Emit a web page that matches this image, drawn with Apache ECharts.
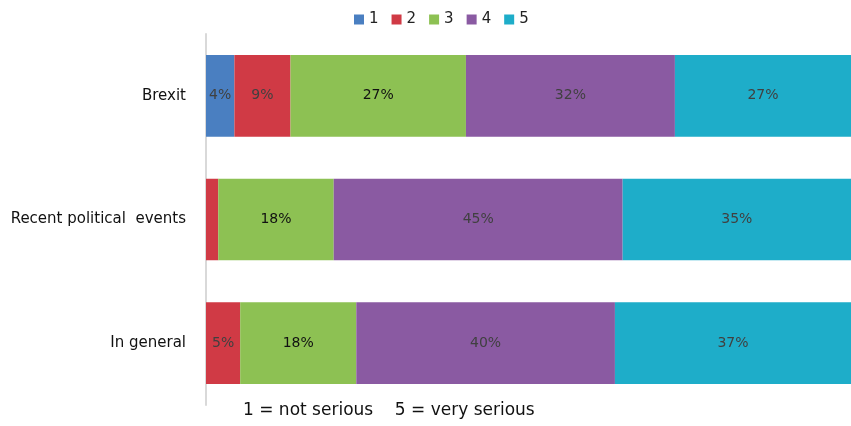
<!DOCTYPE html>
<html><head><meta charset="utf-8">
<script src="https://cdn.jsdelivr.net/npm/echarts@6/dist/echarts.min.js"></script>
<style>html,body{margin:0;padding:0;background:#fff}#c{width:851px;height:426px}</style>
</head><body><div id="c"></div>
<script>
const categories = ['In general', 'Recent political  events', 'Brexit'];
const seriesNames = ['1', '2', '3', '4', '5'];
const s1 = [0, 0, 4.4];
const s2 = [5.3, 1.9, 8.7];
const s3 = [18.0, 17.9, 27.2];
const s4 = [40.1, 44.8, 32.4];
const s5 = [36.6, 35.4, 27.3];
const colors = ['#4a7fc1', '#d03a45', '#8dc153', '#8a5aa2', '#1eadc9'];
const labelColors = ['#404040', '#404040', '#111111', '#404040', '#404040'];
const font = 'DejaVu Sans';
const all = [s1, s2, s3, s4, s5];
const chart = echarts.init(document.getElementById('c'));
chart.setOption({
  animation: false,
  textStyle: {fontFamily: font},
  legend: {
    top: 7, left: 349, itemWidth: 10, itemHeight: 10, itemGap: 13,
    icon: 'rect', textStyle: {fontSize: 15, color: '#222', fontFamily: font},
    data: seriesNames
  },
  grid: {left: 206, right: 0, top: 34, bottom: 21, containLabel: false},
  xAxis: {type: 'value', min: 0, max: 100, show: false},
  yAxis: {
    type: 'category', data: categories,
    axisLine: {show: true, lineStyle: {color: '#d9d9d9', width: 2}},
    axisTick: {show: false},
    axisLabel: {color: '#111', fontSize: 15, margin: 20, fontFamily: font}
  },
  graphic: [{
    type: 'text', left: 243, top: 402,
    style: {text: '1 = not serious    5 = very serious', fontSize: 17, fill: '#111', fontFamily: font}
  }],
  series: all.map((d, i) => ({
    name: seriesNames[i], type: 'bar', stack: 'total', data: d,
    barCategoryGap: '34%',
    itemStyle: {color: colors[i]},
    label: {
      show: true, position: 'inside', fontSize: 14, color: labelColors[i], fontFamily: font,
      formatter: p => p.value >= 3 ? Math.round(p.value) + '%' : ''
    }
  }))
});
</script></body></html>
